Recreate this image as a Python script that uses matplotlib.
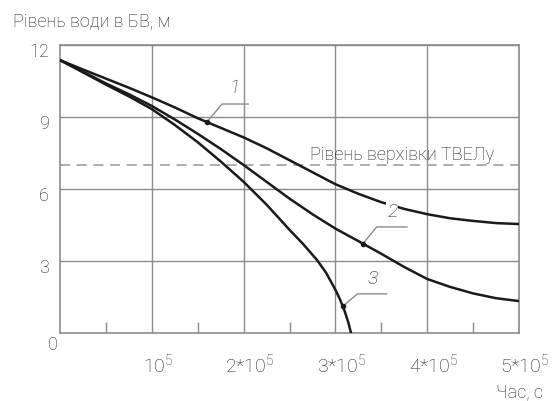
import numpy as np
import matplotlib
matplotlib.use("Agg")
import matplotlib.pyplot as plt
import matplotlib.transforms as mtransforms

plt.rcParams['font.family'] = ['Roboto', 'DejaVu Sans']
plt.rcParams['font.weight'] = 'light'

# time in units of 1e5 s, water level in m
t1 = [0, 0.25, 0.5, 0.75, 1.0, 1.25, 1.5, 1.75, 2.0, 2.25, 2.5, 2.75, 3.0,
      3.25, 3.5, 3.75, 4.0, 4.25, 4.5, 4.75, 5.0]
level1 = [11.37, 10.98, 10.6, 10.22, 9.82, 9.4, 8.95, 8.55, 8.15, 7.7, 7.2, 6.7, 6.2,
          5.8, 5.45, 5.17, 4.95, 4.78, 4.67, 4.58, 4.54]

t2 = [0, 0.25, 0.5, 0.75, 1.0, 1.25, 1.5, 1.75, 2.0, 2.25, 2.5, 2.75, 3.0,
      3.25, 3.5, 3.75, 4.0, 4.25, 4.5, 4.75, 5.0]
level2 = [11.37, 10.89, 10.4, 9.95, 9.46, 8.9, 8.3, 7.67, 7.0, 6.3, 5.6, 4.95, 4.35,
          3.83, 3.3, 2.75, 2.25, 1.92, 1.65, 1.45, 1.33]

t3 = [0, 0.25, 0.5, 0.75, 1.0, 1.25, 1.5, 1.75, 2.0, 2.25, 2.5, 2.65, 2.8,
      2.9, 3.0, 3.05, 3.1, 3.14, 3.17]
level3 = [11.37, 10.86, 10.35, 9.86, 9.33, 8.67, 7.95, 7.15, 6.3, 5.35, 4.3, 3.7, 3.04,
          2.5, 1.8, 1.4, 0.92, 0.45, 0.0]

fuel_top = 7.0
x_ticks = [1, 2, 3, 4, 5]
x_labels = [r'$\mathregular{10^5}$', r'$\mathregular{2{*}10^5}$', r'$\mathregular{3{*}10^5}$',
            r'$\mathregular{4{*}10^5}$', r'$\mathregular{5{*}10^5}$']
y_ticks = [3, 6, 9, 12]

fig = plt.figure(figsize=(5.53, 4.01), dpi=100)
ax = fig.add_axes([60/553, 1 - 333/401, 459/553, 288/401])

grey = '#8c8c8c'
ink = '#222222'
ax.set_xlim(0, 5)
ax.set_ylim(0, 12)
ax.set_xticks(x_ticks)
ax.set_xticklabels(x_labels)
ax.set_xticks([0.5, 1.5, 2.5, 3.5, 4.5], minor=True)
ax.set_yticks(y_ticks)
ax.set_yticklabels([str(v) for v in y_ticks])
ax.grid(True, which='major', color=grey, lw=1.0)
ax.tick_params(which='major', length=0, labelsize=13, colors=ink)
ax.tick_params(axis='x', which='major', pad=14, labelsize=14)
ax.tick_params(axis='y', which='major', pad=8)
ax.tick_params(axis='x', which='minor', direction='in', length=8, color=grey, width=1.0)
for s in ax.spines.values():
    s.set_color(grey)
    s.set_linewidth(1.2)

# y labels sit a little below their grid lines, x labels a little right
yoff = mtransforms.ScaledTranslation(0, -5/100, fig.dpi_scale_trans)
for lab in ax.get_yticklabels():
    lab.set_transform(lab.get_transform() + yoff)
xoff = mtransforms.ScaledTranslation(6/100, 0, fig.dpi_scale_trans)
for lab in ax.get_xticklabels():
    lab.set_transform(lab.get_transform() + xoff)

ax.text(-0.08, -0.5, '0', fontsize=13, ha='center', va='center', color=ink, clip_on=False)

ax.axhline(fuel_top, color='#a0a0a0', lw=1.2, ls=(0, (6, 4)))
ax.text(2.72, 7.2, 'Рівень верхівки ТВЕЛу', fontsize=13, color=ink, va='baseline')

for t, lv in [(t1, level1), (t2, level2), (t3, level3)]:
    ax.plot(t, lv, color='#1a1a1a', lw=1.8, zorder=3)

# callouts: marker x, elbow, end of shelf, label position
callouts = [
    ('1', t1, level1, 1.6, (1.765, 9.54), 2.05, (1.9, 10.2)),
    ('2', t2, level2, 3.3, (3.45, 4.42), 3.78, (3.62, 5.04)),
    ('3', t3, level3, 3.08, (3.24, 1.63), 3.56, (3.41, 2.25)),
]
for name, t, lv, mx, elbow, xend, lpos in callouts:
    my = np.interp(mx, t, lv)
    ax.plot([mx, elbow[0], xend], [my, elbow[1], elbow[1]], color=grey, lw=1.0, zorder=2)
    ax.plot([mx], [my], 'o', color='#1a1a1a', ms=3, zorder=4)
    ax.text(lpos[0], lpos[1], name, fontsize=14, style='italic', ha='center', va='center',
            color=ink, zorder=5,
            bbox=dict(facecolor='white', edgecolor='none', pad=0.5) if name == '2' else None)

fig.text(13/553, 1 - 13/401, 'Рівень води в БВ, м', fontsize=13, ha='left', va='top', color=ink)
fig.text(543/553, 1 - 397/401, 'Час, с', fontsize=13, ha='right', va='baseline', color=ink)

fig.savefig('out.png', dpi=100, facecolor='white')
